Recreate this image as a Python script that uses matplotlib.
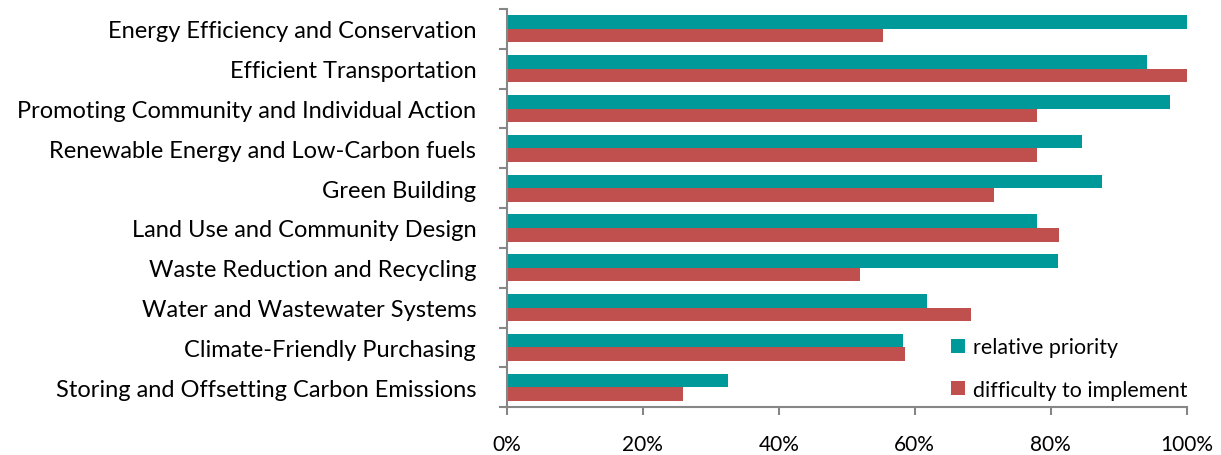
import matplotlib as mpl
mpl.use('Agg')
import matplotlib.pyplot as plt
import numpy as np

plt.rcParams['font.family'] = ['Lato', 'DejaVu Sans']

categories = ['Energy Efficiency and Conservation',
              'Efficient Transportation',
              'Promoting Community and Individual Action',
              'Renewable Energy and Low-Carbon fuels',
              'Green Building',
              'Land Use and Community Design',
              'Waste Reduction and Recycling',
              'Water and Wastewater Systems',
              'Climate-Friendly Purchasing',
              'Storing and Offsetting Carbon Emissions']
priority = [100.0, 94.1, 97.5, 84.6, 87.6, 78.0, 81.0, 61.8, 58.2, 32.5]
difficulty = [55.3, 100.3, 78.0, 78.0, 71.6, 81.2, 51.9, 68.2, 58.5, 25.9]
xticks = [0, 20, 40, 60, 80, 100]

teal = '#009999'
red = '#C0504D'
grey = '#868686'

fig = plt.figure(figsize=(12.21, 4.56), dpi=100)
ax = fig.add_axes([0.415, 0.105, 0.557, 0.873])

y = np.arange(len(categories))
h = 0.34
ax.barh(y - h / 2, priority, height=h, color=teal, label='relative priority')
ax.barh(y + h / 2, difficulty, height=h, color=red, label='difficulty to implement')

ax.set_xlim(0, 100)
ax.set_ylim(len(categories) - 0.5, -0.5)
ax.set_xticks(xticks)
ax.set_xticklabels([f'{v}%' for v in xticks], fontsize=15)

# category labels centred, tick marks between groups
ax.set_yticks(y)
ax.set_yticklabels(categories, fontsize=17)
ax.tick_params(axis='y', which='major', length=0, pad=22)
ax.set_yticks(np.arange(-0.5, len(categories), 1), minor=True)
ax.tick_params(axis='y', which='minor', length=6, color=grey, width=1.5)
ax.tick_params(axis='x', length=6, color=grey, width=1.5, pad=13)

for s in ['top', 'right']:
    ax.spines[s].set_visible(False)
for s in ['left', 'bottom']:
    ax.spines[s].set_color(grey)
    ax.spines[s].set_linewidth(1.5)

ax.legend(loc='lower right', bbox_to_anchor=(1.03, -0.03), frameon=False,
          fontsize=15.4, handlelength=0.65, handleheight=0.65, handletextpad=0.4,
          labelspacing=1.05)

plt.savefig('out.png')
